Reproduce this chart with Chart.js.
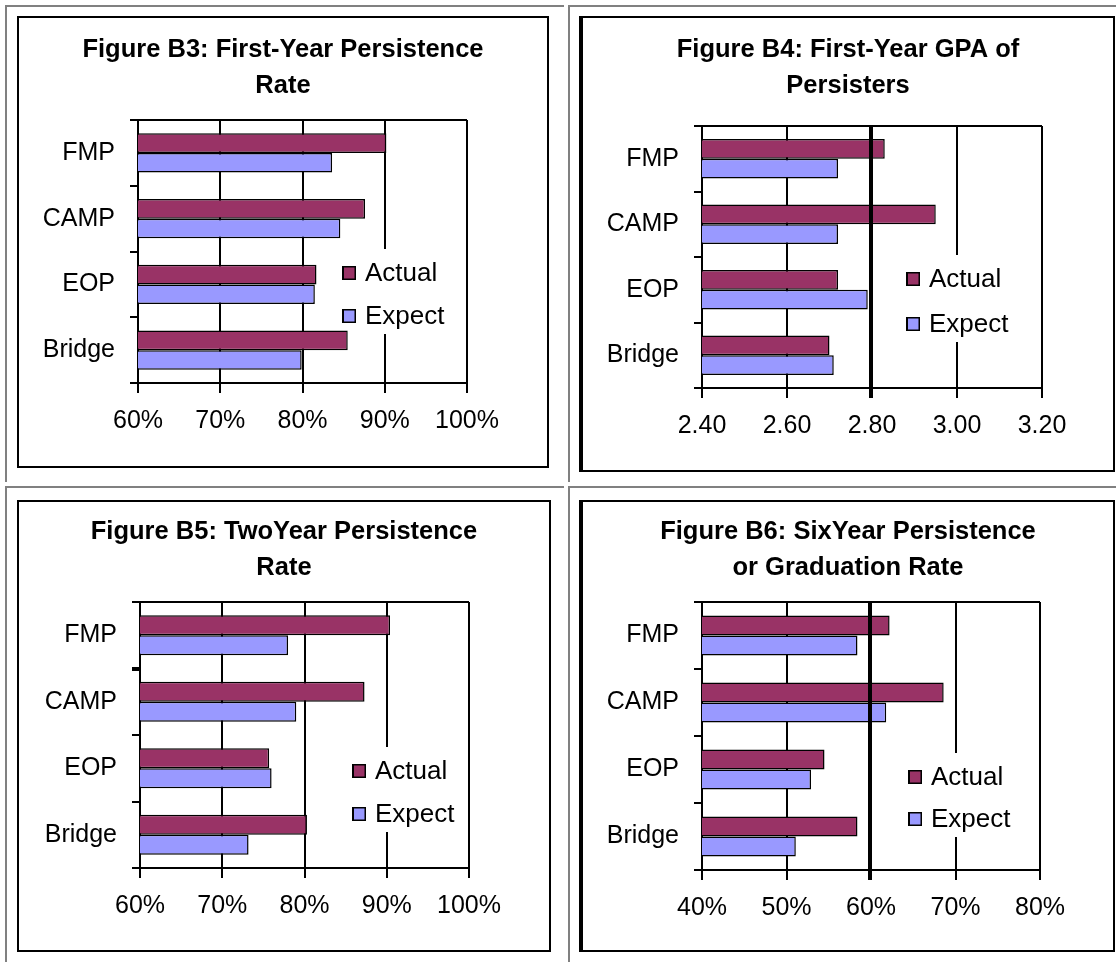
<!DOCTYPE html>
<html>
<head>
<meta charset="utf-8">
<script src="https://cdn.jsdelivr.net/npm/chart.js@4.4.1/dist/chart.umd.min.js"></script>
<style>
  html, body { margin: 0; padding: 0; background: #fff; }
  body { position: relative; width: 1116px; height: 962px; overflow: hidden; }
  .cell { position: absolute; box-sizing: border-box; border-top: 2px solid #808080; border-left: 2px solid #808080; }
  .panel { position: absolute; box-sizing: border-box; border: 2px solid #000; background: #fff; }
  .panel canvas { display: block; }
</style>
</head>
<body>
<div class="cell" style="left:5px;top:5px;width:559px;height:477px"></div>
<div class="cell" style="left:568px;top:5px;width:560px;height:477px"></div>
<div class="cell" style="left:5px;top:486px;width:559px;height:490px"></div>
<div class="cell" style="left:568px;top:486px;width:560px;height:490px"></div>

<div class="panel" style="left:17px;top:16px;width:532px;height:452px"><canvas id="b3" width="528" height="448"></canvas></div>
<div class="panel" style="left:579px;top:16px;width:536px;height:456px;border-left-width:4px"><canvas id="b4" width="530" height="452"></canvas></div>
<div class="panel" style="left:17px;top:500px;width:534px;height:452px"><canvas id="b5" width="530" height="448"></canvas></div>
<div class="panel" style="left:579px;top:500px;width:536px;height:452px;border-left-width:4px"><canvas id="b6" width="530" height="448"></canvas></div>

<script>
// Programs compared in every figure
const categories = ['FMP', 'CAMP', 'EOP', 'Bridge'];
const seriesNames = ['Actual', 'Expect'];

// Figure B3: first-year persistence rate (%)
const b3Title = ['Figure B3: First-Year Persistence', 'Rate'];
const b3Actual = [90.2, 87.6, 81.7, 85.5];
const b3Expect = [83.6, 84.6, 81.5, 79.9];
const b3Range = [60, 100, 10];
const b3Ticks = ['60%', '70%', '80%', '90%', '100%'];

// Figure B4: first-year GPA of persisters
const b4Title = ['Figure B4: First-Year GPA of', 'Persisters'];
const b4Actual = [2.83, 2.95, 2.72, 2.70];
const b4Expect = [2.72, 2.72, 2.79, 2.71];
const b4Range = [2.4, 3.2, 0.2];
const b4Ticks = ['2.40', '2.60', '2.80', '3.00', '3.20'];
const b4Reference = 2.80;

// Figure B5: two-year persistence rate (%)
const b5Title = ['Figure B5: TwoYear Persistence', 'Rate'];
const b5Actual = [90.4, 87.3, 75.7, 80.3];
const b5Expect = [78.0, 79.0, 76.0, 73.2];
const b5Range = [60, 100, 10];
const b5Ticks = ['60%', '70%', '80%', '90%', '100%'];

// Figure B6: six-year persistence or graduation rate (%)
const b6Title = ['Figure B6: SixYear Persistence', 'or Graduation Rate'];
const b6Actual = [62.2, 68.6, 54.5, 58.4];
const b6Expect = [58.4, 61.8, 52.9, 51.1];
const b6Range = [40, 80, 10];
const b6Ticks = ['40%', '50%', '60%', '70%', '80%'];
const b6Reference = 60;

const FONT = "'Liberation Sans', Arial, Helvetica, sans-serif";
const ACTUAL_COLOR = '#993366';
const EXPECT_COLOR = '#9999FF';

Chart.defaults.font.family = FONT;
Chart.defaults.color = '#000';

// Legend drawn as a white box inside the plot area
const insetLegend = {
  id: 'insetLegend',
  beforeDatasetsDraw(chart, args, opts) {
    if (!opts || opts.x == null) return;
    const { ctx, chartArea: a } = chart;
    const w = a.right - a.left, h = a.bottom - a.top;
    const x = Math.round(a.left + opts.x * w);
    const rows = opts.rows.map(f => Math.round(a.top + f * h));
    const items = chart.data.datasets;
    ctx.save();
    ctx.font = '26px ' + FONT;
    const textW = Math.max(...items.map(d => ctx.measureText(d.label).width));
    const left = x - 5;
    const right = Math.min(x + 23 + textW + 8, a.right - 3);
    const top = rows[0] - 24;
    const bottom = rows[rows.length - 1] + 18;
    ctx.fillStyle = '#fff';
    ctx.fillRect(left, top, right - left, bottom - top);
    items.forEach((d, i) => {
      const cy = rows[i];
      ctx.fillStyle = d.backgroundColor;
      ctx.fillRect(x, cy - 7, 14, 14);
      ctx.strokeStyle = '#000';
      ctx.lineWidth = 1.5;
      ctx.strokeRect(x + 0.75, cy - 6.25, 12.5, 12.5);
      ctx.fillStyle = '#000';
      ctx.fillRect(x, cy - 7, 2, 14);
      ctx.textAlign = 'left';
      ctx.textBaseline = 'middle';
      ctx.fillText(d.label, x + 23, cy + 1);
    });
    ctx.restore();
  }
};

// Heavy vertical reference line drawn over the bars
const referenceLine = {
  id: 'referenceLine',
  afterDatasetsDraw(chart, args, opts) {
    if (!opts || opts.value == null) return;
    const { ctx, chartArea: a } = chart;
    const px = Math.round(chart.scales.x.getPixelForValue(opts.value));
    ctx.save();
    ctx.fillStyle = '#000';
    ctx.fillRect(px - 3, a.top, 4, a.bottom - a.top + 10);
    ctx.restore();
  }
};

function makeChart(id, spec) {
  const canvas = document.getElementById(id);
  const W = canvas.width, H = canvas.height;
  const p = spec.plot;
  return new Chart(canvas, {
    type: 'bar',
    data: {
      labels: categories,
      datasets: [
        { label: seriesNames[0], data: spec.actual, backgroundColor: ACTUAL_COLOR,
          borderColor: '#000', borderWidth: 1.5, barPercentage: 1, categoryPercentage: 0.6 },
        { label: seriesNames[1], data: spec.expect, backgroundColor: EXPECT_COLOR,
          borderColor: '#000', borderWidth: 1.5, barPercentage: 1, categoryPercentage: 0.6 }
      ]
    },
    options: {
      indexAxis: 'y',
      responsive: false,
      maintainAspectRatio: false,
      animation: false,
      devicePixelRatio: 1,
      layout: { padding: 0 },
      plugins: {
        legend: { display: false },
        tooltip: { enabled: false },
        title: {
          display: true,
          text: spec.title,
          color: '#000',
          font: { family: FONT, size: 25.5, weight: 'bold', lineHeight: '36px' },
          padding: { top: spec.titleTop, bottom: p.top - spec.titleTop - 72 }
        },
        insetLegend: spec.legend,
        referenceLine: { value: spec.reference }
      },
      scales: {
        x: {
          type: 'linear',
          min: spec.range[0],
          max: spec.range[1],
          ticks: {
            stepSize: spec.range[2],
            autoSkip: false,
            maxRotation: 0,
            padding: 13.5,
            color: '#000',
            font: { family: FONT, size: 25, lineHeight: 1.2 },
            callback: (v, i) => spec.ticks[i]
          },
          grid: { color: '#000', lineWidth: 2, tickLength: 10, tickColor: '#000', tickWidth: 2 },
          border: { display: true, color: '#000', width: 2 },
          afterFit: s => { s.height = H - p.bottom; }
        },
        y: {
          type: 'category',
          offset: true,
          ticks: {
            padding: 15,
            color: '#000',
            font: { family: FONT, size: 25, lineHeight: 1.2 }
          },
          grid: {
            offset: true,
            drawOnChartArea: true,
            color: ctx => ctx.index === 0 ? '#000' : 'rgba(0,0,0,0)',
            lineWidth: 2,
            tickLength: 8,
            tickColor: '#000',
            tickWidth: ctx => (spec.heavyTick != null && ctx.index === spec.heavyTick) ? 4 : 2
          },
          border: { display: true, color: '#000', width: 2 },
          afterFit: s => { s.width = p.left; }
        },
        // empty right-hand axis that reserves the margin beside the plot
        margin: {
          type: 'category',
          position: 'right',
          offset: true,
          ticks: { display: false },
          grid: { display: false, drawTicks: false },
          border: { display: false },
          afterFit: s => { s.width = W - p.right; }
        }
      }
    },
    plugins: [insetLegend, referenceLine]
  });
}

makeChart('b3', {
  title: b3Title, actual: b3Actual, expect: b3Expect, range: b3Range, ticks: b3Ticks,
  plot: { left: 119, top: 102, right: 448, bottom: 365 }, titleTop: 14,
  legend: { x: 0.62, rows: [0.582, 0.745] }
});
makeChart('b4', {
  title: b4Title, actual: b4Actual, expect: b4Expect, range: b4Range, ticks: b4Ticks,
  plot: { left: 119, top: 108, right: 459, bottom: 370 }, titleTop: 14,
  legend: { x: 0.60, rows: [0.584, 0.756] }, reference: b4Reference
});
makeChart('b5', {
  title: b5Title, actual: b5Actual, expect: b5Expect, range: b5Range, ticks: b5Ticks,
  plot: { left: 121, top: 100, right: 450, bottom: 366 }, titleTop: 12,
  legend: { x: 0.645, rows: [0.635, 0.797] }, heavyTick: 1
});
makeChart('b6', {
  title: b6Title, actual: b6Actual, expect: b6Expect, range: b6Range, ticks: b6Ticks,
  plot: { left: 119, top: 100, right: 457, bottom: 368 }, titleTop: 12,
  legend: { x: 0.61, rows: [0.653, 0.81] }, reference: b6Reference
});
</script>
</body>
</html>
